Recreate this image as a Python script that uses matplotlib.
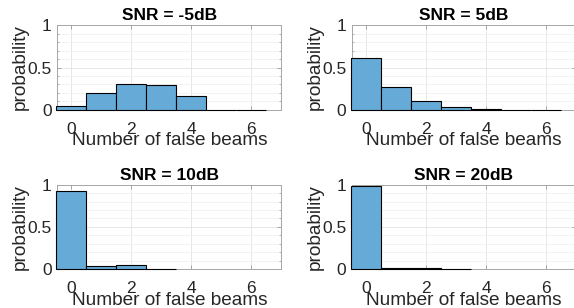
import numpy as np
import matplotlib
matplotlib.use('Agg')
import matplotlib.pyplot as plt
from matplotlib.ticker import MultipleLocator

plt.rcParams['font.family'] = ['Liberation Sans', 'DejaVu Sans']

beams = [0, 1, 2, 3, 4, 5, 6]
titles = ['SNR = -5dB', 'SNR = 5dB', 'SNR = 10dB', 'SNR = 20dB']
p_m5 = [0.047, 0.20, 0.30, 0.29, 0.16, 0.0, 0.0]
p_5 = [0.617, 0.27, 0.11, 0.03, 0.006, 0.002, 0.0]
p_10 = [0.92, 0.04, 0.047, 0.005]
p_20 = [0.98, 0.015, 0.012, 0.003]
dane = [p_m5, p_5, p_10, p_20]

fig = plt.figure(figsize=(5.74, 3.08), dpi=100)
W = 224 / 574
H = 84.5 / 308
pozycje = [(57.3 / 574, 1 - 109.8 / 308),
           (352 / 574, 1 - 109.8 / 308),
           (57.3 / 574, 1 - 269.2 / 308),
           (352 / 574, 1 - 269.2 / 308)]

kolor = (0.4, 0.667, 0.843)
szary = '#262626'

for i in range(4):
    ax = fig.add_axes([pozycje[i][0], pozycje[i][1], W, H])
    y = dane[i]
    ax.bar(beams[:len(y)], y, width=1.0, color=kolor, edgecolor='black',
           linewidth=0.8, zorder=3, clip_on=False)
    ax.set_xlim(-0.47, 7.0)
    ax.set_ylim(0, 1)
    ax.set_xticks([0, 2, 4, 6])
    ax.set_yticks([0, 0.5, 1])
    ax.set_yticklabels(['0', '0.5', '1'])
    ax.yaxis.set_minor_locator(MultipleLocator(0.1))
    ax.grid(True, which='major', color='#e3e3e3', linewidth=0.6, zorder=0)
    ax.grid(True, which='minor', axis='y', color='#f1f1f1', linewidth=0.6, zorder=0)
    ax.tick_params(which='major', direction='in', length=3, width=0.6,
                   color='#9a9a9a', top=True, right=True, labelsize=12.5,
                   labelcolor=szary)
    ax.tick_params(axis='x', which='major', pad=8.5)
    ax.tick_params(axis='y', which='major', pad=4)
    ax.tick_params(which='minor', direction='in', length=1.5, width=0.5,
                   color='#9a9a9a', right=True, left=True)
    for s in ax.spines.values():
        s.set_color('#a6a6a6')
        s.set_linewidth(0.7)
    ax.set_title(titles[i], fontsize=12.5, fontweight='bold', pad=3.5, color='black')
    ax.set_xlabel('Number of false beams', fontsize=13.7, color=szary, labelpad=-3.2)
    ax.set_ylabel('probability', fontsize=13.7, color=szary, labelpad=-1)

fig.savefig('out.png', dpi=100)
